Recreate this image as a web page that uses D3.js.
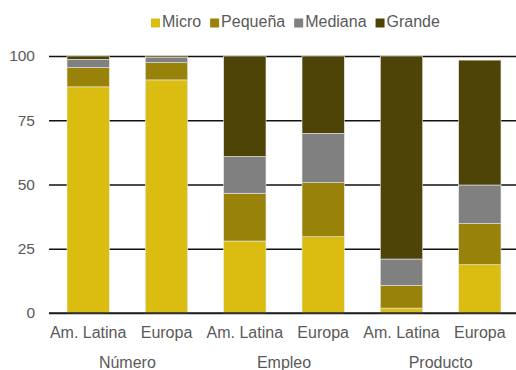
<!DOCTYPE html>
<html>
<head>
<meta charset="utf-8">
<script src="https://cdn.jsdelivr.net/npm/d3@7"></script>
<style>
  html, body { margin: 0; padding: 0; background: #fff; }
  svg { display: block; font-family: "Liberation Sans", Arial, sans-serif; }
</style>
</head>
<body>
<svg id="chart" width="516" height="370"></svg>
<script>
// Firm-size shares (%) by indicator and region
const groups = ["Número", "Empleo", "Producto"];
const regions = ["Am. Latina", "Europa"];
const sizes = ["Micro", "Pequeña", "Mediana", "Grande"];
const colors = ["#dbbd12", "#998209", "#808080", "#4f4408"];

const micro   = [88.0, 90.7, 28.0, 29.7, 1.9, 18.8];
const pequena = [7.5, 6.7, 18.6, 21.0, 8.8, 16.0];
const mediana = [3.2, 2.0, 14.3, 19.2, 10.3, 15.0];
const grande  = [1.3, 0.6, 39.1, 30.1, 79.0, 48.6];

const yTicks = [0, 25, 50, 75, 100];

const rows = [];
groups.forEach((g, gi) => regions.forEach((r, ri) => {
  const i = gi * regions.length + ri;
  rows.push({ key: g + "|" + r, group: g, region: r,
    Micro: micro[i], "Pequeña": pequena[i], Mediana: mediana[i], Grande: grande[i] });
}));

const svg = d3.select("#chart");
const x0 = 49, x1 = 519, yTop = 56, yBot = 313;

const x = d3.scaleBand().domain(rows.map(d => d.key)).range([x0, x1]).paddingInner(0.46).paddingOuter(0.23);
const y = d3.scaleLinear().domain([0, 100]).range([yBot, yTop]);
const color = d3.scaleOrdinal().domain(sizes).range(colors);

// gridlines
const yAxis = d3.axisLeft(y).tickValues(yTicks).tickSize(-(516 - x0)).tickPadding(14);
const gy = svg.append("g").attr("transform", `translate(${x0},0)`).call(yAxis);
gy.select(".domain").remove();
gy.selectAll(".tick line").attr("stroke", "#111").attr("stroke-width", 1.3);
gy.selectAll(".tick text").attr("fill", "#595959").style("font-size", "15.5px")
  .attr("x", -14);

// stacked bars
const series = d3.stack().keys(sizes)(rows);
svg.append("g").selectAll("g").data(series).join("g")
  .attr("fill", d => color(d.key))
  .selectAll("rect").data(d => d).join("rect")
  .attr("x", d => x(d.data.key))
  .attr("width", x.bandwidth())
  .attr("y", d => y(d[1]))
  .attr("height", d => y(d[0]) - y(d[1]))
  .attr("stroke", "#e8e8e8").attr("stroke-width", 0.6);

// baseline
svg.append("line").attr("x1", x0).attr("x2", 516).attr("y1", yBot).attr("y2", yBot)
  .attr("stroke", "#222").attr("stroke-width", 1.3);

// region labels
svg.append("g").selectAll("text").data(rows).join("text")
  .attr("x", d => x(d.key) + x.bandwidth() / 2)
  .attr("y", 337.5)
  .attr("text-anchor", "middle")
  .attr("fill", "#595959").style("font-size", "16px")
  .text(d => d.region);

// group labels
svg.append("g").selectAll("text").data(groups).join("text")
  .attr("x", (g, gi) => {
    const a = x(rows[gi * 2].key), b = x(rows[gi * 2 + 1].key) + x.bandwidth();
    return (a + b) / 2;
  })
  .attr("y", 368)
  .attr("text-anchor", "middle")
  .attr("fill", "#595959").style("font-size", "16px")
  .text(d => d);

// legend
const legend = svg.append("g");
let lx = 151;
sizes.forEach((s, i) => {
  legend.append("rect").attr("x", lx).attr("y", 18.5).attr("width", 9).attr("height", 9)
    .attr("fill", colors[i]);
  const t = legend.append("text").attr("x", lx + 11).attr("y", 26.5)
    .attr("fill", "#595959").style("font-size", "16px").text(s);
  lx += 11 + t.node().getComputedTextLength() + 9;
});
</script>
</body>
</html>
